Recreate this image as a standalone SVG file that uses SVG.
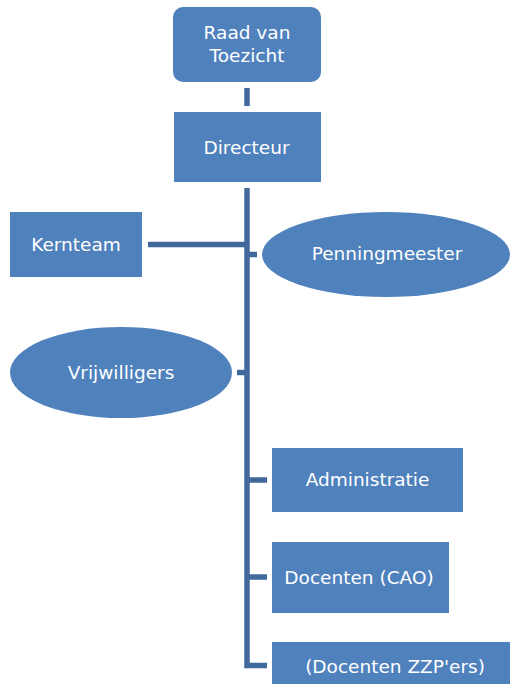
<svg xmlns="http://www.w3.org/2000/svg" width="510" height="684" viewBox="0 0 510 684">
<style>
.n{fill:#4f81bd}
.t{fill:#ffffff;font-family:"DejaVu Sans",Verdana,sans-serif;font-size:18.5px;text-anchor:middle}
.c{fill:none;stroke:#41699c;stroke-width:5.5}
</style>
<rect width="510" height="684" fill="#ffffff"/>
<g id="connectors">
<line class="c" x1="247" y1="88" x2="247" y2="106"/>
<path class="c" d="M247 188 V665.5 H267"/>
<line class="c" x1="148" y1="244.5" x2="247" y2="244.5"/>
<line class="c" x1="247" y1="254.5" x2="257" y2="254.5"/>
<line class="c" x1="237" y1="372.5" x2="247" y2="372.5"/>
<line class="c" x1="247" y1="480" x2="267" y2="480"/>
<line class="c" x1="247" y1="577" x2="267" y2="577"/>
</g>
<g id="raad">
<rect class="n" x="173" y="7" width="148" height="75" rx="10"/>
<text class="t" x="247" y="39">Raad van</text>
<text class="t" x="247" y="62">Toezicht</text>
</g>
<g id="directeur">
<rect class="n" x="174" y="112" width="147" height="70"/>
<text class="t" x="246.5" y="154">Directeur</text>
</g>
<g id="kernteam">
<rect class="n" x="10" y="212" width="132" height="65"/>
<text class="t" x="76" y="251">Kernteam</text>
</g>
<g id="penningmeester">
<ellipse class="n" cx="386" cy="254.5" rx="124" ry="42.5"/>
<text class="t" x="387" y="260">Penningmeester</text>
</g>
<g id="vrijwilligers">
<ellipse class="n" cx="121" cy="372.5" rx="111" ry="45.5"/>
<text class="t" x="121" y="379">Vrijwilligers</text>
</g>
<g id="administratie">
<rect class="n" x="272" y="448" width="191" height="64"/>
<text class="t" x="367.5" y="486">Administratie</text>
</g>
<g id="docenten-cao">
<rect class="n" x="272" y="542" width="177" height="71"/>
<text class="t" x="359" y="584">Docenten (CAO)</text>
</g>
<g id="docenten-zzp">
<rect class="n" x="272" y="642" width="240" height="44"/>
<text class="t" x="395" y="673">(Docenten ZZP'ers)</text>
</g>
</svg>
